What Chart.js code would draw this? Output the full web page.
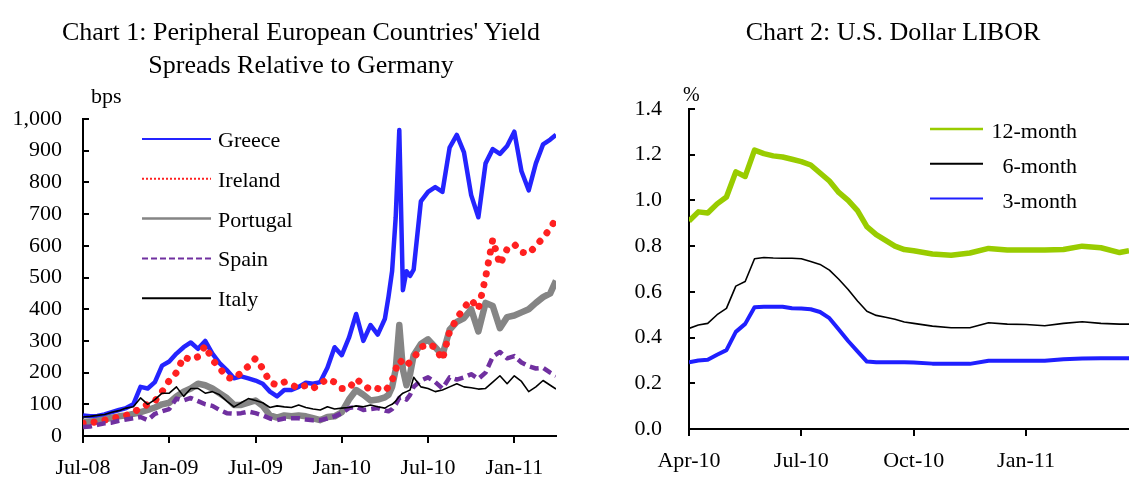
<!DOCTYPE html>
<html>
<head>
<meta charset="utf-8">
<script src="https://cdn.jsdelivr.net/npm/chart.js@4.4.1/dist/chart.umd.min.js"></script>
<style>
  body { margin: 0; background: #fff; }
  #page { position: relative; width: 1129px; height: 480px; overflow: hidden;
          font-family: 'Liberation Serif', 'Times New Roman', serif; color: #000; }
  canvas { position: absolute; top: 0; }
  .t { position: absolute; white-space: nowrap; line-height: 1; }
  .title { font-size: 26px; line-height: 33px; text-align: center; }
</style>
</head>
<body>
<div id="page">
  <canvas id="c1" width="580" height="480" style="left:0"></canvas>
  <canvas id="c2" width="549" height="480" style="left:580px"></canvas>

  <div class="t title" style="left:0;width:602px;top:15px">Chart 1: Peripheral European Countries' Yield<br>Spreads Relative to Germany</div>
  <div class="t title" style="left:693px;width:400px;top:15px">Chart 2: U.S. Dollar LIBOR</div>
  <div class="t" style="left:91px;top:85px;font-size:22px">bps</div>
  <div class="t" style="left:683px;top:84px;font-size:20px">%</div>
</div>

<script>
// ---- Chart 1: spreads vs Germany (bps), x = months since Jul-08 ----
const months1 = [0, 0.5, 1, 1.5, 2, 2.5, 3, 3.5, 4, 4.5, 5, 5.5, 6, 6.5, 7, 7.5, 8, 8.5, 9, 9.5,
  10, 10.5, 11, 11.5, 12, 12.5, 13, 13.5, 14, 14.5, 15, 15.5, 16, 16.5, 17, 17.5, 18, 18.5, 19, 19.5,
  20, 20.5, 21, 21.25, 21.5, 21.75, 22, 22.25, 22.5, 22.75, 23,
  23.5, 24, 24.5, 25, 25.5, 26, 26.5, 27, 27.5, 28, 28.5, 29, 29.5, 30, 30.5, 31, 31.5, 32, 32.5, 32.9];

const greece = [65, 62, 63, 68, 75, 82, 88, 100, 155, 150, 170, 222, 235, 260, 280, 295, 275, 300, 260, 230,
  208, 182, 188, 182, 175, 165, 140, 125, 145, 145, 155, 168, 165, 170, 215, 280, 255, 310, 385, 300,
  350, 320, 370, 440, 520, 690, 965, 460, 520, 505, 525,
  740, 770, 785, 770, 910, 950, 895, 760, 690, 860, 905, 890, 915, 960, 835, 775, 860, 920, 935, 950];
const ireland = [40, 42, 45, 50, 55, 60, 65, 75, 88, 100, 110, 140, 175, 200, 250, 240, 250, 285, 240, 215,
  185, 180, 200, 220, 245, 213, 170, 160, 170, 162, 150, 160, 150, 165, 180, 170, 150, 150, 180, 162,
  145, 150, 142, 155, 175, 210, 240, 230, 220, 235, 245,
  280, 290, 280, 240, 330, 370, 405, 430, 400, 500, 620, 540, 590, 605, 580, 575, 600, 625, 655, 685];
const portugal = [45, 45, 48, 52, 58, 62, 65, 70, 75, 82, 90, 100, 105, 125, 140, 150, 165, 160, 150, 135,
  120, 98, 98, 105, 112, 95, 65, 58, 65, 62, 65, 62, 56, 50, 60, 62, 75, 115, 145, 130,
  112, 115, 122, 130, 155, 210, 350, 210, 160, 195, 255,
  290, 305, 280, 255, 335, 360, 372, 400, 330, 420, 410, 340, 375, 380, 390, 400, 420, 438, 450, 490];
const spain = [28, 30, 35, 40, 42, 48, 52, 56, 60, 50, 70, 78, 85, 118, 112, 120, 110, 100, 95, 82,
  72, 70, 72, 77, 72, 65, 55, 50, 55, 56, 56, 52, 50, 50, 55, 62, 72, 88, 92, 82,
  85, 88, 80, 78, 85, 100, 120, 122, 115, 130, 155,
  175, 185, 170, 150, 185, 178, 185, 195, 180, 200, 250, 265, 245, 252, 232, 220, 213, 215, 200, 190];
const italy = [60, 62, 65, 68, 75, 80, 88, 92, 120, 100, 115, 135, 135, 155, 125, 150, 150, 135, 140, 130,
  110, 92, 105, 118, 112, 105, 90, 95, 92, 90, 98, 90, 85, 82, 92, 85, 88, 90, 95, 92,
  98, 92, 88, 95, 100, 110, 125, 135, 140, 145, 185,
  155, 150, 140, 145, 155, 165, 155, 152, 148, 150, 170, 190, 165, 190, 172, 140, 155, 175, 160, 148];

const xTickMonths1 = [0, 6, 12, 18, 24, 30];
const xTickLabels1 = ['Jul-08', 'Jan-09', 'Jul-09', 'Jan-10', 'Jul-10', 'Jan-11'];

// ---- Chart 2: USD LIBOR (%), x = months since Apr-10 ----
const months2 = [0, 0.25, 0.5, 0.75, 1, 1.25, 1.5, 1.75, 2, 2.25, 2.5, 2.75, 3, 3.25, 3.5, 3.75,
  4, 4.25, 4.5, 4.75, 5, 5.25, 5.5, 5.75, 6, 6.5, 7, 7.5, 8, 8.5, 9, 9.5, 10, 10.5, 11, 11.5, 11.75];
const libor12m = [0.91, 0.95, 0.945, 0.985, 1.015, 1.125, 1.105, 1.22, 1.205, 1.195, 1.19, 1.18, 1.17, 1.155, 1.12, 1.085,
  1.035, 1.0, 0.955, 0.885, 0.85, 0.825, 0.80, 0.785, 0.78, 0.766, 0.76, 0.77, 0.79, 0.783, 0.783, 0.783, 0.785, 0.80, 0.793, 0.772, 0.78];
const libor6m = [0.44, 0.455, 0.462, 0.50, 0.528, 0.625, 0.645, 0.745, 0.75, 0.748, 0.747, 0.747, 0.745, 0.733, 0.72, 0.695,
  0.655, 0.61, 0.56, 0.515, 0.497, 0.489, 0.48, 0.468, 0.462, 0.45, 0.443, 0.443, 0.465, 0.459, 0.457, 0.452, 0.462, 0.469, 0.462, 0.459, 0.459];
const libor3m = [0.292, 0.30, 0.303, 0.325, 0.345, 0.425, 0.46, 0.533, 0.535, 0.535, 0.535, 0.528, 0.527, 0.524, 0.512, 0.485,
  0.435, 0.385, 0.34, 0.295, 0.292, 0.292, 0.292, 0.292, 0.291, 0.286, 0.285, 0.285, 0.299, 0.299, 0.299, 0.299, 0.305, 0.308, 0.309, 0.309, 0.309];

const xTickMonths2 = [0, 3, 6, 9];
const xTickLabels2 = ['Apr-10', 'Jul-10', 'Oct-10', 'Jan-11'];

const tickFont = { family: 'Liberation Serif', size: 22 };

function pts(xs, ys) {
  return xs.map((x, i) => ({ x: x, y: ys[i] }));
}

function line(label, xs, ys, color, width, order, dash) {
  return {
    label: label, data: pts(xs, ys), borderColor: color, borderWidth: width,
    borderDash: dash || [], borderCapStyle: dash && dash[0] < 1 ? 'round' : 'butt',
    borderJoinStyle: 'round', pointRadius: 0, tension: 0, fill: false, order: order
  };
}

function xAxis(max, tickVals, tickLabels, height) {
  return {
    type: 'linear', min: 0, max: max,
    afterBuildTicks: s => { s.ticks = tickVals.map(v => ({ value: v })); },
    afterFit: s => { s.height = height; },
    border: { display: true, color: '#000', width: 2 },
    grid: { display: true, drawOnChartArea: false, drawTicks: true, tickLength: 7, color: '#000', lineWidth: 2 },
    ticks: { autoSkip: false, maxRotation: 0, padding: 12, color: '#000', font: tickFont,
      callback: (v, i) => tickLabels[i] }
  };
}

function yAxis(max, step, width, pad, fmt) {
  return {
    type: 'linear', min: 0, max: max,
    afterFit: s => { s.width = width; },
    border: { display: true, color: '#000', width: 2 },
    grid: { display: false, drawTicks: false },
    ticks: { stepSize: step, padding: pad, color: '#000', font: tickFont, callback: fmt }
  };
}

// short tick marks on the inner side of the y axis
const innerTicks = {
  id: 'innerTicks',
  afterDraw(chart) {
    const { ctx, chartArea, scales } = chart;
    const y = scales.y;
    ctx.save();
    ctx.strokeStyle = '#000';
    ctx.lineWidth = 2;
    y.ticks.forEach(t => {
      const py = Math.round(y.getPixelForValue(t.value));
      ctx.beginPath();
      ctx.moveTo(chartArea.left, py);
      ctx.lineTo(chartArea.left + 6, py);
      ctx.stroke();
    });
    ctx.restore();
  }
};

const common = {
  responsive: false, animation: false, devicePixelRatio: 1,
  plugins: { legend: { display: false }, tooltip: { enabled: false }, title: { display: false } }
};

const names1 = ['Greece', 'Ireland', 'Portugal', 'Spain', 'Italy'];
new Chart(document.getElementById('c1'), {
  type: 'line',
  data: {
    datasets: [
      line(names1[0], months1, greece, '#2424ff', 4.5, 4),
      line(names1[1], months1, ireland, '#ff2020', 7, 2, [0.1, 11]),
      line(names1[2], months1, portugal, '#858585', 6.5, 3),
      line(names1[3], months1, spain, '#7030a0', 4.5, 1, [9, 5]),
      line(names1[4], months1, italy, '#000000', 1.6, 0)
    ]
  },
  options: Object.assign({}, common, {
    layout: { padding: { top: 119, right: 24, left: 0, bottom: 0 } },
    scales: {
      x: xAxis(32.9, xTickMonths1, xTickLabels1, 44),
      y: yAxis(1000, 100, 83, 21, v => v.toLocaleString('en-US'))
    }
  }),
  plugins: [innerTicks]
});

const names2 = ['12-month', '6-month', '3-month'];
new Chart(document.getElementById('c2'), {
  type: 'line',
  data: {
    datasets: [
      line(names2[0], months2, libor12m, '#99cc00', 5.5, 2),
      line(names2[1], months2, libor6m, '#000000', 1.6, 1),
      line(names2[2], months2, libor3m, '#1f1fff', 4, 0)
    ]
  },
  options: Object.assign({}, common, {
    layout: { padding: { top: 109, right: 0, left: 0, bottom: 0 } },
    scales: {
      x: xAxis(11.75, xTickMonths2, xTickLabels2, 51),
      y: yAxis(1.4, 0.2, 109, 27, v => v.toFixed(1))
    }
  }),
  plugins: [innerTicks]
});

// ---- legends (html text + svg line samples) ----
const NS = 'http://www.w3.org/2000/svg';
function legend(items, o) {
  const page = document.getElementById('page');
  const svg = document.createElementNS(NS, 'svg');
  svg.setAttribute('width', 1129);
  svg.setAttribute('height', 480);
  svg.style.cssText = 'position:absolute;left:0;top:0';
  items.forEach((it, i) => {
    const y = o.top + i * o.gap;
    const ln = document.createElementNS(NS, 'line');
    ln.setAttribute('x1', o.x1); ln.setAttribute('x2', o.x2);
    ln.setAttribute('y1', y); ln.setAttribute('y2', y);
    ln.setAttribute('stroke', it.color);
    ln.setAttribute('stroke-width', it.w);
    if (it.dash) ln.setAttribute('stroke-dasharray', it.dash);
    svg.appendChild(ln);
    const d = document.createElement('div');
    d.className = 't';
    d.textContent = it.label;
    d.style.fontSize = '22px';
    d.style.top = (y + o.base - 18) + 'px';
    if (o.textRight) d.style.right = (1129 - o.textRight) + 'px';
    else d.style.left = o.textX + 'px';
    page.appendChild(d);
  });
  page.appendChild(svg);
}

legend([
  { label: names1[0], color: '#2424ff', w: 2 },
  { label: names1[1], color: '#ff2020', w: 2, dash: '2 2' },
  { label: names1[2], color: '#858585', w: 2.5 },
  { label: names1[3], color: '#7030a0', w: 2, dash: '6 3' },
  { label: names1[4], color: '#000', w: 2 }
], { x1: 142, x2: 211, textX: 218, top: 139, gap: 39.8, base: 8 });

legend([
  { label: names2[0], color: '#99cc00', w: 2.5 },
  { label: names2[1], color: '#000', w: 2 },
  { label: names2[2], color: '#1f1fff', w: 2 }
], { x1: 930, x2: 983, textRight: 1077, top: 129, gap: 34.8, base: 9 });
</script>
</body>
</html>
